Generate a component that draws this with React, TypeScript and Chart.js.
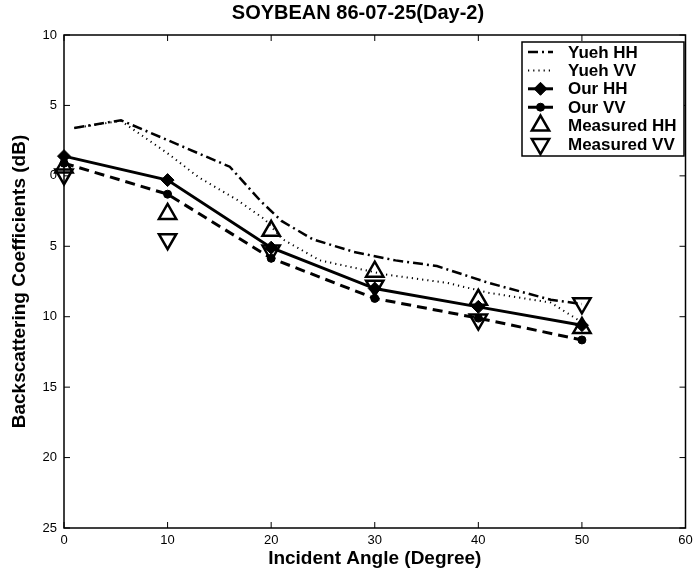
import React, { useEffect, useRef } from 'react';
import { Chart, registerables } from 'chart.js';

Chart.register(...registerables);

const chartTitle = 'SOYBEAN 86-07-25(Day-2)';
const xTitle = 'Incident Angle (Degree)';
const yTitle = 'Backscattering Coefficients (dB)';
const xTicks = [0, 10, 20, 30, 40, 50, 60];
const yTicks = [10, 5, 0, -5, -10, -15, -20, -25];

const yuehHHAngles = [1, 5.5, 16, 19, 21, 24, 28, 32, 36, 41, 47, 50];
const yuehHH = [3.4, 3.95, 0.65, -1.8, -3.2, -4.5, -5.4, -6.0, -6.4, -7.6, -8.8, -9.1];

const yuehVVAngles = [1, 5.5, 10, 13, 16.7, 19.4, 21.1, 24.7, 31, 37, 41, 47, 50];
const yuehVV = [3.4, 3.9, 1.6, -0.1, -1.7, -3.1, -4.5, -6.0, -7.0, -7.6, -8.3, -9.0, -10.4];

const angles = [0, 10, 20, 30, 40, 50];
const ourHH = [1.4, -0.3, -5.1, -8.0, -9.3, -10.6];
const ourVV = [0.9, -1.3, -5.85, -8.7, -10.1, -11.65];
const measuredHH = [0.6, -2.7, -3.9, -6.8, -8.8, -10.8];
const measuredVV = [0.1, -4.5, -5.3, -7.8, -10.2, -9.05];

const labels = ['Yueh HH', 'Yueh VV', 'Our HH', 'Our VV', 'Measured HH', 'Measured VV'];

const FONT = '"Liberation Sans", Arial, Helvetica, sans-serif';

const toPts = (xs: number[], ys: number[]) => xs.map((x, i) => ({ x, y: ys[i] }));

function drawMarker(ctx: CanvasRenderingContext2D, style: string, x: number, y: number, r: number, rot: number, fill: boolean, bw: number) {
  ctx.save();
  ctx.translate(x, y);
  ctx.rotate((rot * Math.PI) / 180);
  ctx.beginPath();
  if (style === 'triangle') {
    for (let k = 0; k < 3; k++) {
      const a = (k * 2 * Math.PI) / 3;
      const px = Math.sin(a) * r;
      const py = -Math.cos(a) * r;
      if (k === 0) ctx.moveTo(px, py);
      else ctx.lineTo(px, py);
    }
    ctx.closePath();
  } else if (style === 'rectRot') {
    ctx.moveTo(0, -r);
    ctx.lineTo(r, 0);
    ctx.lineTo(0, r);
    ctx.lineTo(-r, 0);
    ctx.closePath();
  } else {
    ctx.arc(0, 0, r, 0, Math.PI * 2);
  }
  ctx.setLineDash([]);
  ctx.lineWidth = bw;
  ctx.strokeStyle = '#000';
  if (fill) {
    ctx.fillStyle = '#000';
    ctx.fill();
  }
  ctx.stroke();
  ctx.restore();
}

const framePlugin = {
  id: 'framePlugin',
  afterDraw(chart: any) {
    const { ctx, chartArea: a, scales } = chart;
    ctx.save();
    ctx.strokeStyle = '#000';
    ctx.lineWidth = 1.5;
    ctx.setLineDash([]);
    ctx.strokeRect(a.left, a.top, a.right - a.left, a.bottom - a.top);
    const L = 6;
    ctx.lineWidth = 1;
    ctx.beginPath();
    for (const v of xTicks) {
      const px = scales.x.getPixelForValue(v);
      ctx.moveTo(px, a.bottom);
      ctx.lineTo(px, a.bottom - L);
      ctx.moveTo(px, a.top);
      ctx.lineTo(px, a.top + L);
    }
    for (const v of yTicks) {
      const py = scales.y.getPixelForValue(v);
      ctx.moveTo(a.left, py);
      ctx.lineTo(a.left + L, py);
      ctx.moveTo(a.right, py);
      ctx.lineTo(a.right - L, py);
    }
    ctx.stroke();

    ctx.fillStyle = '#000';
    ctx.font = `bold 20px ${FONT}`;
    ctx.textAlign = 'center';
    ctx.textBaseline = 'middle';
    ctx.fillText(chartTitle, 358, 13);

    const bx = 522, by = 42, bw = 162, bh = 114;
    ctx.fillStyle = '#fff';
    ctx.fillRect(bx, by, bw, bh);
    ctx.lineWidth = 1.5;
    ctx.strokeStyle = '#000';
    ctx.strokeRect(bx, by, bw, bh);
    const ds = chart.data.datasets;
    ds.forEach((d: any, i: number) => {
      const cy = by + 10 + i * 18.4;
      const x0 = 528, x1 = 553, xm = (x0 + x1) / 2;
      if (d.showLine !== false) {
        ctx.save();
        ctx.beginPath();
        ctx.setLineDash(d.borderDash || []);
        ctx.lineWidth = d.borderWidth;
        ctx.strokeStyle = '#000';
        ctx.lineCap = 'butt';
        ctx.moveTo(x0, cy);
        ctx.lineTo(x1, cy);
        ctx.stroke();
        ctx.restore();
      }
      if (d.pointRadius > 0) {
        drawMarker(ctx, d.pointStyle, xm, cy, d.pointRadius, d.pointRotation || 0, d.pointBackgroundColor === '#000', d.pointBorderWidth || 1);
      }
      ctx.fillStyle = '#000';
      ctx.font = `bold 17px ${FONT}`;
      ctx.textAlign = 'left';
      ctx.textBaseline = 'middle';
      ctx.fillText(d.label, 568, cy + 1);
    });
    ctx.restore();
  },
};

export default function App() {
  const ref = useRef<HTMLCanvasElement | null>(null);
  useEffect(() => {
    if (!ref.current) return;
    const chart = new Chart(ref.current, {
      type: 'scatter',
      data: {
        datasets: [
          {
            label: labels[0],
            data: toPts(yuehHHAngles, yuehHH),
            showLine: true,
            borderColor: '#000',
            borderWidth: 2.5,
            borderDash: [10, 4, 2, 4],
            pointRadius: 0,
            clip: false,
          },
          {
            label: labels[1],
            data: toPts(yuehVVAngles, yuehVV),
            showLine: true,
            borderColor: '#000',
            borderWidth: 2,
            borderDash: [1.2, 4],
            pointRadius: 0,
            clip: false,
          },
          {
            label: labels[2],
            data: toPts(angles, ourHH),
            showLine: true,
            borderColor: '#000',
            borderWidth: 3,
            pointStyle: 'rectRot',
            pointRadius: 6.5,
            pointBackgroundColor: '#000',
            pointBorderColor: '#000',
            pointBorderWidth: 1,
            clip: false,
          },
          {
            label: labels[3],
            data: toPts(angles, ourVV),
            showLine: true,
            borderColor: '#000',
            borderWidth: 3,
            borderDash: [10, 6],
            pointStyle: 'circle',
            pointRadius: 4,
            pointBackgroundColor: '#000',
            pointBorderColor: '#000',
            pointBorderWidth: 1,
            clip: false,
          },
          {
            label: labels[4],
            data: toPts(angles, measuredHH),
            showLine: false,
            pointStyle: 'triangle',
            pointRadius: 10,
            pointBorderWidth: 2.5,
            pointBackgroundColor: 'rgba(0,0,0,0)',
            pointBorderColor: '#000',
            clip: false,
          },
          {
            label: labels[5],
            data: toPts(angles, measuredVV),
            showLine: false,
            pointStyle: 'triangle',
            pointRotation: 180,
            pointRadius: 10,
            pointBorderWidth: 2.5,
            pointBackgroundColor: 'rgba(0,0,0,0)',
            pointBorderColor: '#000',
            clip: false,
          },
        ] as any,
      },
      options: {
        animation: false,
        responsive: false,
        devicePixelRatio: 1,
        layout: { padding: { top: 35, right: 12, left: 0, bottom: 0 } },
        plugins: { legend: { display: false }, tooltip: { enabled: false }, title: { display: false } },
        scales: {
          x: {
            type: 'linear',
            min: 0,
            max: 60,
            afterFit: (s: any) => { s.height = 49; },
            afterBuildTicks: (s: any) => { s.ticks = xTicks.map((v) => ({ value: v })); },
            grid: { display: false, drawTicks: false },
            border: { display: false },
            ticks: { color: '#000', font: { family: FONT, size: 13 }, padding: 5, maxRotation: 0 },
            title: { display: true, text: xTitle, color: '#000', font: { family: FONT, size: 19, weight: 'bold' }, padding: { top: 0, bottom: 7 } },
          },
          y: {
            type: 'linear',
            min: -25,
            max: 10,
            afterFit: (s: any) => { s.width = 64; },
            afterBuildTicks: (s: any) => { s.ticks = yTicks.map((v) => ({ value: v })); },
            grid: { display: false, drawTicks: false },
            border: { display: false },
            ticks: { color: '#000', font: { family: FONT, size: 13 }, padding: 7, callback: (v: any) => String(Math.abs(Number(v))) },
            title: { display: true, text: yTitle, color: '#000', font: { family: FONT, size: 19, weight: 'bold' }, padding: { top: 8, bottom: 0 } },
          },
        },
      } as any,
      plugins: [framePlugin],
    });
    return () => chart.destroy();
  }, []);
  return (
    <div style={{ position: 'absolute', left: 0, top: 0, width: 698, height: 577, background: '#fff' }}>
      <canvas ref={ref} width={698} height={577} style={{ display: 'block' }} />
    </div>
  );
}
